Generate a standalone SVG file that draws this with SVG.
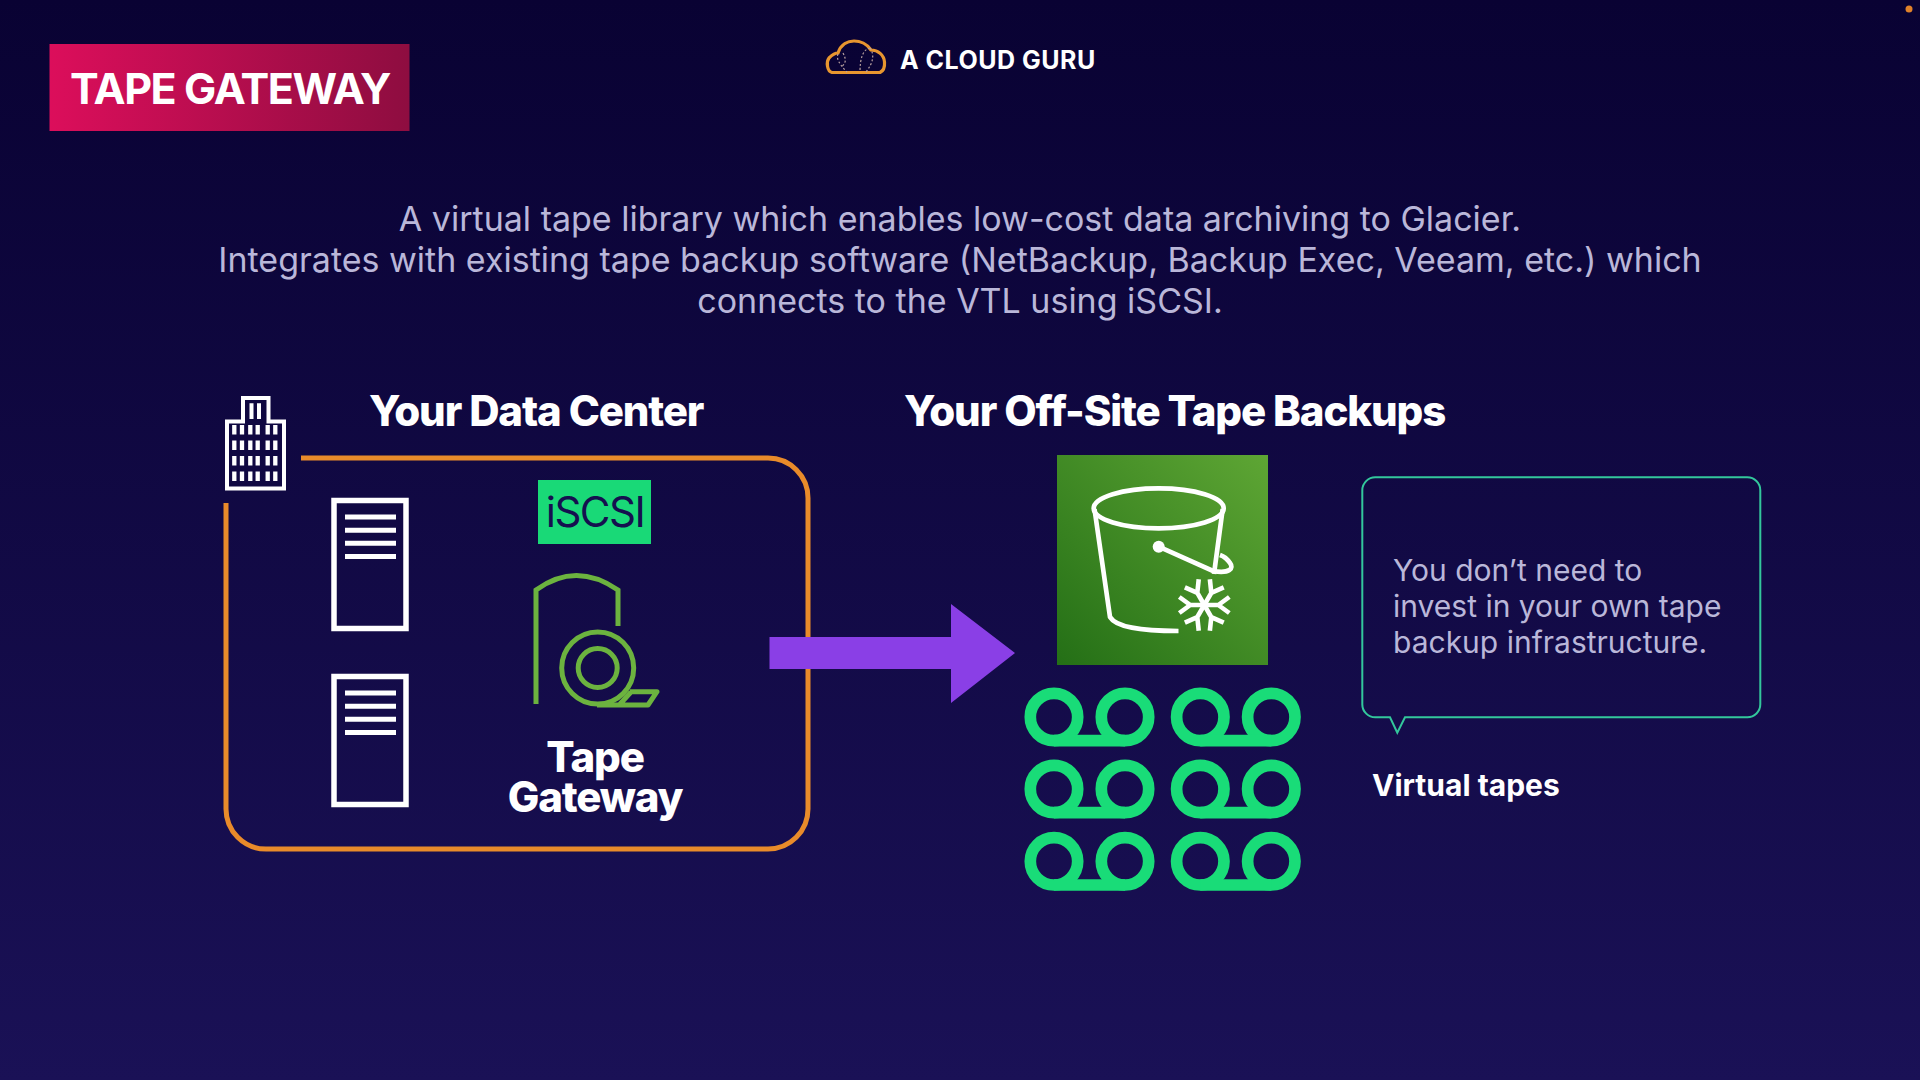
<svg xmlns="http://www.w3.org/2000/svg" width="1920" height="1080" viewBox="0 0 1920 1080">
<style>
text{font-family:Inter,"Liberation Sans",sans-serif}
.h{fill:#fff;font-weight:800;font-size:42px;letter-spacing:-1.15px}
.d{fill:#bab7d9;font-size:34px;text-anchor:middle}
.c{fill:#bab7d9;font-size:30px}
.w{fill:none;stroke:#fff}
.g{fill:none;stroke:#6cb33f;stroke-width:5}
.t{fill:none;stroke:#19dc78;stroke-width:11.7}
</style>
<defs>
<linearGradient id="bg" x1="0" y1="0" x2="0" y2="1"><stop offset="0" stop-color="#090233"/><stop offset="1" stop-color="#1a1156"/></linearGradient>
<linearGradient id="tg" x1="0" y1="0" x2="1" y2="0"><stop offset="0" stop-color="#dc0e5b"/><stop offset="1" stop-color="#8e0d40"/></linearGradient>
<linearGradient id="sg" x1="0" y1="1" x2="1" y2="0"><stop offset="0" stop-color="#246f16"/><stop offset="1" stop-color="#5ea634"/></linearGradient>
<g id="srv"><rect class="w" x="334" y="0" width="72" height="128" stroke-width="5.5"/><path class="w" stroke-width="5" d="M345 16.500H396M345 29.700H396M345 42.800H396M345 56H396"/></g>
<g id="tape"><circle class="t" cx="0" cy="0" r="23.700"/><circle class="t" cx="71" cy="0" r="23.700"/><path class="t" d="M0 23.700H71"/></g>
<path id="arm" d="M0 0H14L25 -8M14 0L25 8"/>
</defs>
<rect width="1920" height="1080" fill="url(#bg)"/>
<circle cx="1909" cy="9" r="3.500" fill="#e0822a"/>
<g id="title"><rect x="49.500" y="44" width="360" height="87" fill="url(#tg)"/><text x="230" y="104" text-anchor="middle" fill="#fff" font-size="43" font-weight="700" letter-spacing="-1.400">TAPE GATEWAY</text></g>
<g id="logo"><path d="M832 72.500C827 71 826 62 829 58C832 55 835 53 838 53C841 44 848 41 854 41C860 41 867 44 871 50C878 50 884 55 884.500 62C885 68 883 71 880 72.500Z" fill="none" stroke="#e8962f" stroke-width="3.200"/><path d="M838 54Q835 60 847 72M843 53Q848 62 842 66M870 48Q860 50 860 72M870 48Q877 58 866 72" fill="none" stroke="#b9a2a0" stroke-width="1.200" stroke-dasharray="2 2"/><text x="900" y="69" fill="#fff" font-size="25" font-weight="700" letter-spacing=".5">A CLOUD GURU</text></g>
<g id="description"><text class="d" x="960" y="231">A virtual tape library which enables low-cost data archiving to Glacier.</text><text class="d" x="960" y="272">Integrates with existing tape backup software (NetBackup, Backup Exec, Veeam, etc.) which</text><text class="d" x="960" y="313">connects to the VTL using iSCSI.</text></g>
<g id="data-center-title"><text class="h" x="369" y="426">Your Data Center</text></g>
<g id="building"><path class="w" stroke-width="4" d="M227 421.500H243V398H268.500V421.500H284V488.500H227Z"/><path class="w" stroke-width="4" d="M251.500 403.300V419M259 403.300V419"/><path class="w" stroke-width="4.300" stroke-dasharray="9.500 6" d="M234.300 425V482M242 425V482M250.300 425V482M257.700 425V482M267.700 425V482M275.300 425V482"/></g>
<g id="data-center-box"><path fill="none" stroke="#e98b2a" stroke-width="5" d="M301 458H768A40 40 0 0 1 808 498V809A40 40 0 0 1 768 849H266A40 40 0 0 1 226 809V503"/></g>
<g id="server-1"><use href="#srv" y="500.500"/></g>
<g id="server-2"><use href="#srv" y="676.500"/></g>
<g id="iscsi"><rect x="538" y="480" width="113" height="64" fill="#19d977"/><text x="595" y="527" text-anchor="middle" fill="#15104f" font-size="42" letter-spacing="-1.500">iSCSI</text></g>
<g id="tape-gateway"><path class="g" d="M536 704V590Q576 561 618 590V626"/><circle class="g" cx="597.700" cy="668" r="36"/><circle class="g" cx="597.700" cy="668" r="19.500"/><path class="g" stroke-linejoin="round" d="M630 691.700H657L648 705H597M620 704L631 692"/><text class="h" x="595" y="771.500" text-anchor="middle">Tape</text><text class="h" x="595" y="812" text-anchor="middle">Gateway</text></g>
<g id="connectors"><path fill="#8a3fe6" d="M769.500 637H951V604L1015 653L951 703V669H769.500Z"/></g>
<g id="backups-title"><text class="h" x="904" y="426">Your Off-Site Tape Backups</text></g>
<g id="glacier"><rect x="1057" y="455" width="211" height="210" fill="url(#sg)"/>
<g fill="none" stroke="#fff" stroke-width="4.700"><ellipse cx="1158.700" cy="508.300" rx="65" ry="20"/><path d="M1094.500 509L1110 617Q1118 631 1178.500 631M1222.700 509L1214 574"/><path d="M1158.700 546.700L1213 571C1230 574 1234 568 1230 563Q1226 557 1220 555"/></g><circle cx="1158.700" cy="546.700" r="6" fill="#fff"/>
<g fill="none" stroke="#fff" stroke-width="4.600" transform="translate(1204.300 605)"><use href="#arm"/><use href="#arm" transform="rotate(60)"/><use href="#arm" transform="rotate(120)"/><use href="#arm" transform="rotate(180)"/><use href="#arm" transform="rotate(240)"/><use href="#arm" transform="rotate(300)"/></g></g>
<g id="tapes"><use href="#tape" x="1054" y="717"/><use href="#tape" x="1200.300" y="717"/><use href="#tape" x="1054" y="789"/><use href="#tape" x="1200.300" y="789"/><use href="#tape" x="1054" y="861.300"/><use href="#tape" x="1200.300" y="861.300"/></g>
<g id="callout"><path fill="none" stroke="#33c79c" stroke-width="2" d="M1376 477.300H1747A13 13 0 0 1 1760.300 490.300V704A13 13 0 0 1 1747 717.300H1405L1397.300 732.700L1390 717.300H1376A13 13 0 0 1 1362.300 704V490.300A13 13 0 0 1 1376 477.300Z"/><text class="c" x="1393" y="581">You don’t need to</text><text class="c" x="1393" y="617">invest in your own tape</text><text class="c" x="1393" y="653">backup infrastructure.</text></g>
<g id="virtual-tapes"><text x="1372" y="796" fill="#fff" font-size="30" font-weight="700">Virtual tapes</text></g>
</svg>
